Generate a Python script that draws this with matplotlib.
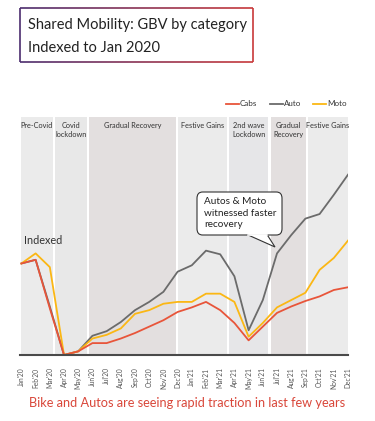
import matplotlib
matplotlib.use("Agg")
import matplotlib.pyplot as plt
import numpy as np
from matplotlib.patches import FancyBboxPatch, Polygon
from matplotlib.collections import LineCollection
import matplotlib.colors as mcolors

months = ["Jan'20", "Feb'20", "Mar'20", "Apr'20", "May'20", "Jun'20", "Jul'20", "Aug'20",
          "Sep'20", "Oct'20", "Nov'20", "Dec'20", "Jan'21", "Feb'21", "Mar'21", "Apr'21",
          "May'21", "Jun'21", "Jul'21", "Aug'21", "Sep'21", "Oct'21", "Nov'21", "Dec'21"]

cabs = [100, 104, 51, 0, 4, 13, 13, 18, 24, 31, 38, 47, 52, 58, 49, 35, 16, 31, 46, 53, 59, 64, 71, 74]
auto = [100, 104, 53, 0, 4, 21, 26, 36, 49, 58, 69, 91, 98, 114, 110, 86, 27, 60, 111, 131, 149, 154, 175, 197]
moto = [100, 111, 96, 0, 4, 18, 22, 29, 45, 49, 56, 58, 58, 67, 67, 58, 20, 35, 52, 60, 68, 93, 106, 125]

phases = ["Pre-Covid", "Covid\nlockdown", "Gradual Recovery", "Festive Gains",
          "2nd wave\nLockdown", "Gradual\nRecovery", "Festive Gains"]
phase_spans = [(0, 2.2), (2.35, 4.6), (4.75, 10.9), (11.05, 14.5), (14.65, 17.4), (17.55, 20.05), (20.2, 23.0)]
phase_colors = ["#ebebeb", "#e8e8e8", "#e3dfdf", "#ebebeb", "#e6e6e8", "#e3dfdf", "#ebebeb"]

FONT = ["Lato", "DejaVu Sans"]
plt.rcParams['font.family'] = FONT

W, H = 375, 421
fig = plt.figure(figsize=(W / 100, H / 100), dpi=100)

def fx(px):
    return px / W

def fy(py):
    return 1 - py / H

ax = fig.add_axes([fx(20), fy(355), fx(348) - fx(20), fy(117) - fy(355)])
x = np.arange(len(months))
ymax = 260
for (a, b), c, lab in zip(phase_spans, phase_colors, phases):
    ax.axvspan(a, b, color=c, zorder=0, lw=0)
    ax.text((a + b) / 2, ymax - 6, lab, ha="center", va="top", fontsize=5.3,
            color="#333333", linespacing=1.2)

ax.plot(x, auto, color="#6b6b6b", lw=1.3, label="Auto", zorder=3)
ax.plot(x, moto, color="#fbb714", lw=1.3, label="Moto", zorder=4)
ax.plot(x, cabs, color="#e8553a", lw=1.3, label="Cabs", zorder=5)

ax.set_xlim(-0.1, 23)
ax.set_ylim(0, ymax)
ax.set_xticks(x)
ax.set_xticklabels(months, rotation=90, fontsize=4.8, color="#555555")
ax.tick_params(axis="x", length=0, pad=9)
ax.set_yticks([])
for s in ["top", "right", "left"]:
    ax.spines[s].set_visible(False)
ax.spines["bottom"].set_color("#4a4a4a")
ax.spines["bottom"].set_linewidth(1.5)
ax.spines["bottom"].set_zorder(6)

ax.text(0.15, 119, "Indexed", fontsize=7.8, color="#333333", ha="left", va="bottom")

# legend (manual)
leg_items = [("Cabs", "#e8553a", 226), ("Auto", "#6b6b6b", 270), ("Moto", "#fbb714", 313)]
for lab, col, x0 in leg_items:
    fig.add_artist(plt.Line2D([fx(x0), fx(x0 + 13)], [fy(104), fy(104)], color=col, lw=1.3))
    fig.text(fx(x0 + 14), fy(104), lab, fontsize=5.8, va="center", ha="left", color="#333333")

# title box with gradient border
c1 = np.array(mcolors.to_rgb("#4b2c6e"))
c2 = np.array(mcolors.to_rgb("#c8383a"))
bx0, bx1, by0, by1 = 20, 253, 8, 62
n = 80
segs, cols = [], []
for i in range(n):
    t0, t1 = i / n, (i + 1) / n
    xa, xb = bx0 + (bx1 - bx0) * t0, bx0 + (bx1 - bx0) * t1
    col = c1 + (c2 - c1) * (t0 + t1) / 2
    for yy in (by0, by1):
        segs.append([(fx(xa), fy(yy)), (fx(xb), fy(yy))])
        cols.append(col)
segs.append([(fx(bx0), fy(by0)), (fx(bx0), fy(by1))]); cols.append(c1)
segs.append([(fx(bx1), fy(by0)), (fx(bx1), fy(by1))]); cols.append(c2)
lc = LineCollection(segs, colors=cols, linewidths=1.2, transform=fig.transFigure)
fig.add_artist(lc)
fig.text(fx(28), fy(25), "Shared Mobility: GBV by category", fontsize=10.5, color="#222222",
         va="center", ha="left")
fig.text(fx(28), fy(48), "Indexed to Jan 2020", fontsize=10.5, color="#222222",
         va="center", ha="left")

# callout
box = FancyBboxPatch((fx(197), fy(235)), fx(282) - fx(197), fy(192) - fy(235),
                     boxstyle="round,pad=0,rounding_size=0.015", transform=fig.transFigure,
                     facecolor="white", edgecolor="#333333", lw=0.8, zorder=10)
fig.add_artist(box)
tail = Polygon([(fx(247), fy(234.5)), (fx(275), fy(247)), (fx(267), fy(234.5))], closed=False,
               transform=fig.transFigure, facecolor="white", edgecolor="#333333", lw=0.8, zorder=11)
fig.add_artist(tail)
fig.add_artist(plt.Line2D([fx(247.5), fx(266.5)], [fy(234.5), fy(234.5)], color="white", lw=1.2,
                          transform=fig.transFigure, zorder=12))
fig.text(fx(204), fy(213), "Autos & Moto\nwitnessed faster\nrecovery", fontsize=7.2,
         color="#222222", va="center", ha="left", linespacing=1.35, zorder=13)

fig.text(fx(187), fy(403), "Bike and Autos are seeing rapid traction in last few years",
         fontsize=9.2, color="#d9473a", ha="center", va="center")

fig.savefig("out.png", dpi=100, facecolor="white")
